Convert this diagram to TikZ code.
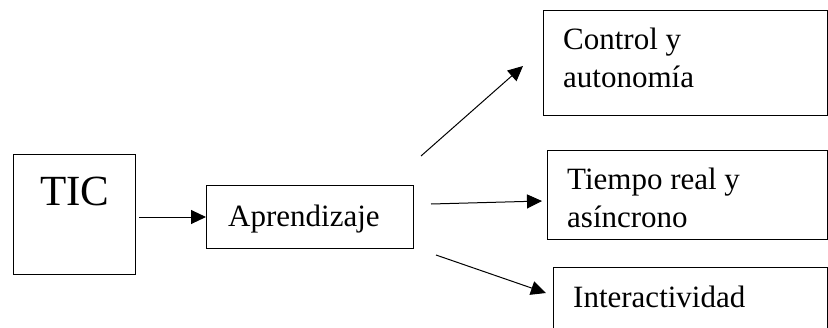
\documentclass[tikz,border=0pt]{standalone}
\usepackage{fontspec}
\setmainfont{Liberation Serif}
\usetikzlibrary{arrows.meta}

\tikzset{
  box/.style={draw,line width=1pt,anchor=north west,inner sep=0pt},
  lbl/.style={anchor=base west,inner sep=0pt,align=left,font=\fontsize{31}{38}\selectfont},
  arr/.style={line width=1pt,-{Triangle[length=15pt,width=14pt]}}
}

\begin{document}
\begin{tikzpicture}[x=1pt,y=-1pt]
\useasboundingbox (0,0) rectangle (828,327);

% boxes
\node[box,minimum width=122pt,minimum height=120pt] (boxTIC) at (13,154) {};
\node[box,minimum width=207pt,minimum height=63pt] (boxApr) at (206,185) {};
\node[box,minimum width=284pt,minimum height=105pt] (boxCon) at (543,10) {};
\node[box,minimum width=280pt,minimum height=89pt] (boxTie) at (547,150) {};
\node[box,minimum width=274pt,minimum height=80pt] (boxInt) at (553,267) {};

% texts (base = last line)
\node[anchor=base,inner sep=0pt,font=\fontsize{43}{50}\selectfont] (txtTIC) at (75,205) {TIC};
\node[lbl] (txtApr) at (228,226) {Aprendizaje};
\node[lbl] (txtCon) at (563,87) {Control y\\autonomía};
\node[lbl] (txtTie) at (567,227) {Tiempo real y\\asíncrono};
\node[lbl] (txtInt) at (573,307) {Interactividad};

% arrows
\coordinate (s1) at (421,156);
\coordinate (e1) at (523,66);
\coordinate (s2) at (431,204);
\coordinate (e2) at (542,201);
\coordinate (s3) at (436,255);
\coordinate (e3) at (546,293);

\draw[arr] ([xshift=3pt]boxTIC.east |- boxApr.west) -- (boxApr.west);
\draw[arr] (s1) -- (e1);
\draw[arr] (s2) -- (e2);
\draw[arr] (s3) -- (e3);
\end{tikzpicture}
\end{document}
